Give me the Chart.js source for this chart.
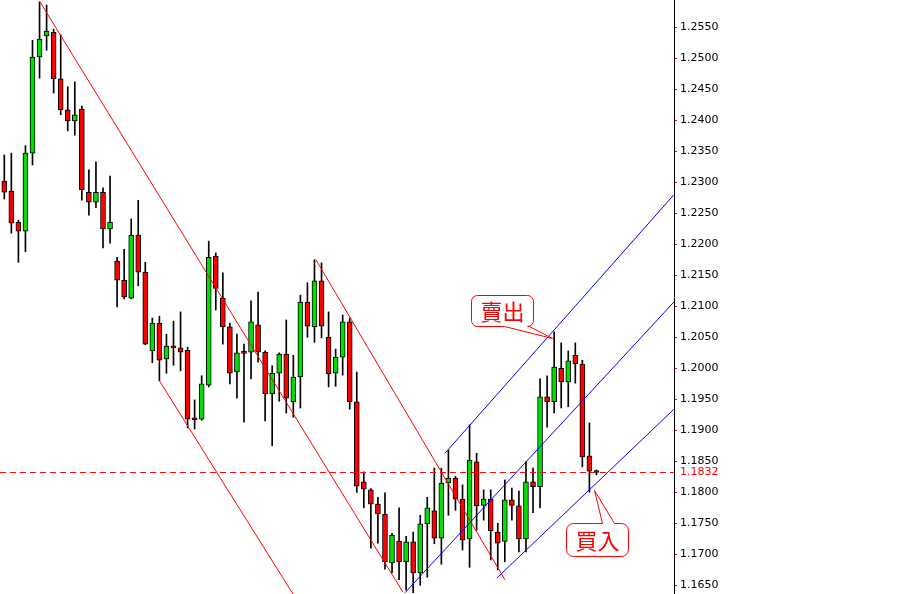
<!DOCTYPE html>
<html>
<head>
<meta charset="utf-8">
<title>EURUSD channels</title>
<script src="https://cdn.jsdelivr.net/npm/chart.js@4/dist/chart.umd.min.js"></script>
<style>
  html, body { margin: 0; padding: 0; background: #fff; }
  #wrap { width: 924px; height: 594px; }
</style>
</head>
<body>
<div id="wrap"><canvas id="chart" width="924" height="594"></canvas></div>
<script>
// OHLC per bar, oldest first
const opens = [1.2302,1.2286,1.2236,1.2221,1.2347,1.2502,1.2536,1.2542,1.2467,1.2417,
  1.2399,1.2418,1.2284,1.2268,1.2284,1.2225,1.2173,1.2142,1.2113,1.2215,
  1.2155,1.2028,1.2073,1.2015,1.2036,1.2033,1.2029,1.1918,1.1918,1.1973,
  1.2181,1.2113,1.2067,1.1994,1.2025,1.2026,1.2070,1.2026,1.1959,1.1992,
  1.2023,1.1946,1.1986,1.2107,1.2067,1.2141,1.2050,1.1992,1.2018,1.2075,
  1.1946,1.1817,1.1804,1.1781,1.1765,1.1686,1.1721,1.1688,1.1720,1.1670,
  1.1749,1.1770,1.1726,1.1815,1.1823,1.1789,1.1725,1.1849,1.1779,1.1789,
  1.1736,1.1721,1.1788,1.1778,1.1725,1.1817,1.1809,1.1954,1.1946,1.2000,
  1.1978,1.2021,1.2007,1.1859,1.1833];
const highs = [1.2344,1.2347,1.2239,1.2359,1.2529,1.2591,1.2586,1.2547,1.2538,1.2454,
  1.2462,1.2423,1.2320,1.2333,1.2291,1.2310,1.2179,1.2192,1.2241,1.2271,
  1.2171,1.2081,1.2084,1.2055,1.2076,1.2091,1.2034,1.1949,1.1988,1.2205,
  1.2186,1.2154,1.2073,1.2055,1.2039,1.2109,1.2123,1.2028,1.2004,1.2025,
  1.2078,1.2021,1.2118,1.2138,1.2175,1.2170,1.2091,1.2031,1.2086,1.2081,
  1.1994,1.1833,1.1806,1.1792,1.1799,1.1734,1.1775,1.1729,1.1736,1.1763,
  1.1792,1.1839,1.1839,1.1868,1.1826,1.1812,1.1909,1.1863,1.1804,1.1804,
  1.1750,1.1820,1.1807,1.1802,1.1849,1.1839,1.1983,1.1988,1.2059,1.2041,
  1.2028,1.2041,1.2013,1.1912,1.1836];
const lows = [1.2273,1.2218,1.2171,1.2188,1.2328,1.2468,1.2513,1.2444,1.2409,1.2383,
  1.2376,1.2271,1.2247,1.2259,1.2194,1.2202,1.2099,1.2112,1.2112,1.2133,
  1.2038,1.2009,1.1980,1.1992,1.2005,1.1996,1.1904,1.1902,1.1916,1.1970,
  1.2094,1.2039,1.1975,1.1952,1.1913,1.1983,1.2010,1.1915,1.1875,1.1947,
  1.1928,1.1921,1.1936,1.2050,1.2042,1.2049,1.1970,1.1971,1.1989,1.1934,
  1.1800,1.1775,1.1710,1.1718,1.1676,1.1670,1.1659,1.1642,1.1638,1.1650,
  1.1663,1.1717,1.1684,1.1763,1.1771,1.1707,1.1679,1.1739,1.1755,1.1691,
  1.1675,1.1688,1.1755,1.1704,1.1704,1.1767,1.1775,1.1905,1.1928,1.1936,
  1.1938,1.1976,1.1841,1.1800,1.1828];
const closes = [1.2284,1.2234,1.2221,1.2347,1.2502,1.2531,1.2544,1.2467,1.2417,1.2399,
  1.2409,1.2288,1.2268,1.2284,1.2225,1.2236,1.2142,1.2115,1.2215,1.2155,
  1.2039,1.2073,1.2013,1.2036,1.2033,1.2026,1.1918,1.1917,1.1975,1.2179,
  1.2129,1.2067,1.1992,1.2025,1.2024,1.2075,1.2026,1.1959,1.1992,1.2023,
  1.1952,1.1986,1.2107,1.2068,1.2141,1.2068,1.1991,1.2018,1.2075,1.1946,
  1.1810,1.1805,1.1781,1.1765,1.1688,1.1731,1.1688,1.1720,1.1670,1.1749,
  1.1775,1.1726,1.1815,1.1823,1.1789,1.1723,1.1852,1.1778,1.1789,1.1738,
  1.1718,1.1788,1.1779,1.1725,1.1817,1.1809,1.1954,1.1946,1.2002,1.1978,
  1.2012,1.2007,1.1857,1.1834,1.1832];

// price axis
const tickValues = [1.1650,1.1700,1.1750,1.1800,1.1850,1.1900,1.1950,1.2000,1.2050,1.2100,
  1.2150,1.2200,1.2250,1.2300,1.2350,1.2400,1.2450,1.2500,1.2550];
const lastPrice = 1.1832;
const yMin = 1.1636, yMax = 1.2594;
const xMin = -0.61, xMax = 95;

// trend lines: [[barIndex, price], [barIndex, price]]
const redLines = [
  [[5.06, 1.2591], [56.55, 1.1639]],
  [[21.94, 1.1981], [40.95, 1.1636]],
  [[44.21, 1.2175], [71.02, 1.1659]]
];
const blueLines = [
  [[62.51, 1.1863], [94.99, 1.2280]],
  [[56.84, 1.1638], [94.99, 1.2107]],
  [[69.89, 1.1662], [94.99, 1.1934]]
];

// arrows point at these bars
const sellBar = 78;  // high
const buyBar = 83;   // low

const UP = '#00e000', DOWN = '#ff0000';

function lineSet(pts, color) {
  return {
    type: 'line',
    data: pts.map(p => ({ x: p[0], y: p[1] })),
    borderColor: color,
    borderWidth: 1,
    pointRadius: 0,
    tension: 0,
    order: 0
  };
}

function bubble(ctx, left, top, w, h, r, tail) {
  const right = left + w, bottom = top + h;
  ctx.beginPath();
  ctx.moveTo(left + r, top);
  if (tail.side === 'top') {
    ctx.lineTo(tail.a, top);
    ctx.lineTo(tail.tx, tail.ty);
    ctx.lineTo(tail.b, top);
  }
  ctx.lineTo(right - r, top);
  ctx.arcTo(right, top, right, top + r, r);
  ctx.lineTo(right, bottom - r);
  ctx.arcTo(right, bottom, right - r, bottom, r);
  if (tail.side === 'bottom') {
    ctx.lineTo(tail.b, bottom);
    ctx.lineTo(tail.tx, tail.ty);
    ctx.lineTo(tail.a, bottom);
  }
  ctx.lineTo(left + r, bottom);
  ctx.arcTo(left, bottom, left, bottom - r, r);
  ctx.lineTo(left, top + r);
  ctx.arcTo(left, top, left + r, top, r);
  ctx.closePath();
  ctx.fillStyle = '#fff';
  ctx.fill();
  ctx.strokeStyle = '#ff0000';
  ctx.lineWidth = 1;
  ctx.stroke();
}

const labels = {
  id: 'labels',
  afterDatasetsDraw(chart) {
    const { ctx, scales: { x, y } } = chart;
    ctx.save();
    ctx.font = '22px "Noto Sans CJK TC"';
    ctx.textAlign = 'center';
    ctx.textBaseline = 'middle';

    // sell callout above the top bar
    let tx = Math.round(x.getPixelForValue(sellBar)) - 1.5;
    let ty = Math.round(y.getPixelForValue(highs[sellBar])) + 6.5;
    let left = tx - 81, top = ty - 43;
    bubble(ctx, left, top, 62, 31, 6, { side: 'bottom', a: left + 33, b: left + 58, tx, ty });
    ctx.fillStyle = '#ff0000';
    ctx.fillText('賣出', left + 31, top + 16);

    // buy callout under the channel touch
    tx = Math.round(x.getPixelForValue(buyBar)) + 5.5;
    ty = Math.round(y.getPixelForValue(lows[buyBar])) - 1.5;
    left = tx - 28; top = ty + 33;
    bubble(ctx, left, top, 62, 33, 7, { side: 'top', a: left + 36, b: left + 48, tx, ty });
    ctx.fillStyle = '#ff0000';
    ctx.fillText('買入', left + 31, top + 17);
    ctx.restore();
  }
};

const datasets = [
  {
    type: 'bar',
    data: opens.map((o, i) => ({ x: i, y: [o, closes[i]] })),
    backgroundColor: opens.map((o, i) => closes[i] > o ? UP : DOWN),
    borderColor: '#000',
    borderWidth: 1,
    borderSkipped: false,
    barThickness: 5,
    minBarLength: 2,
    grouped: false,
    order: 1
  },
  {
    type: 'bar',
    data: lows.map((l, i) => ({ x: i, y: [l, highs[i]] })),
    backgroundColor: '#000',
    borderWidth: 0,
    barThickness: 1,
    grouped: false,
    order: 2
  },
  {
    type: 'line',
    data: [{ x: xMin, y: lastPrice }, { x: xMax, y: lastPrice }],
    borderColor: '#ff0000',
    borderWidth: 1,
    borderDash: [6, 4],
    pointRadius: 0,
    order: 0
  }
];
redLines.forEach(l => datasets.push(lineSet(l, '#ff0000')));
blueLines.forEach(l => datasets.push(lineSet(l, '#0000ff')));

new Chart(document.getElementById('chart'), {
  type: 'bar',
  data: { datasets },
  plugins: [labels],
  options: {
    responsive: false,
    animation: false,
    devicePixelRatio: 1,
    layout: { padding: 0 },
    plugins: { legend: { display: false }, tooltip: { enabled: false } },
    scales: {
      x: {
        type: 'linear',
        display: false,
        min: xMin,
        max: xMax,
        offset: false
      },
      y: {
        position: 'right',
        min: yMin,
        max: yMax,
        afterBuildTicks: s => { s.ticks = tickValues.concat([lastPrice]).map(v => ({ value: v })); },
        afterFit: s => { s.width = 250; s.paddingTop = 0; s.paddingBottom = 0; },
        ticks: {
          autoSkip: false,
          padding: 3,
          font: { family: 'DejaVu Sans', size: 11 },
          color: c => c.tick && c.tick.value === lastPrice ? '#ff0000' : '#000',
          callback: v => Number(v).toFixed(4)
        },
        grid: {
          drawOnChartArea: false,
          tickLength: 3,
          color: c => c.tick && c.tick.value === lastPrice ? 'rgba(0,0,0,0)' : '#ff0000'
        },
        border: { color: '#000', width: 1 }
      }
    }
  }
});
</script>
</body>
</html>
